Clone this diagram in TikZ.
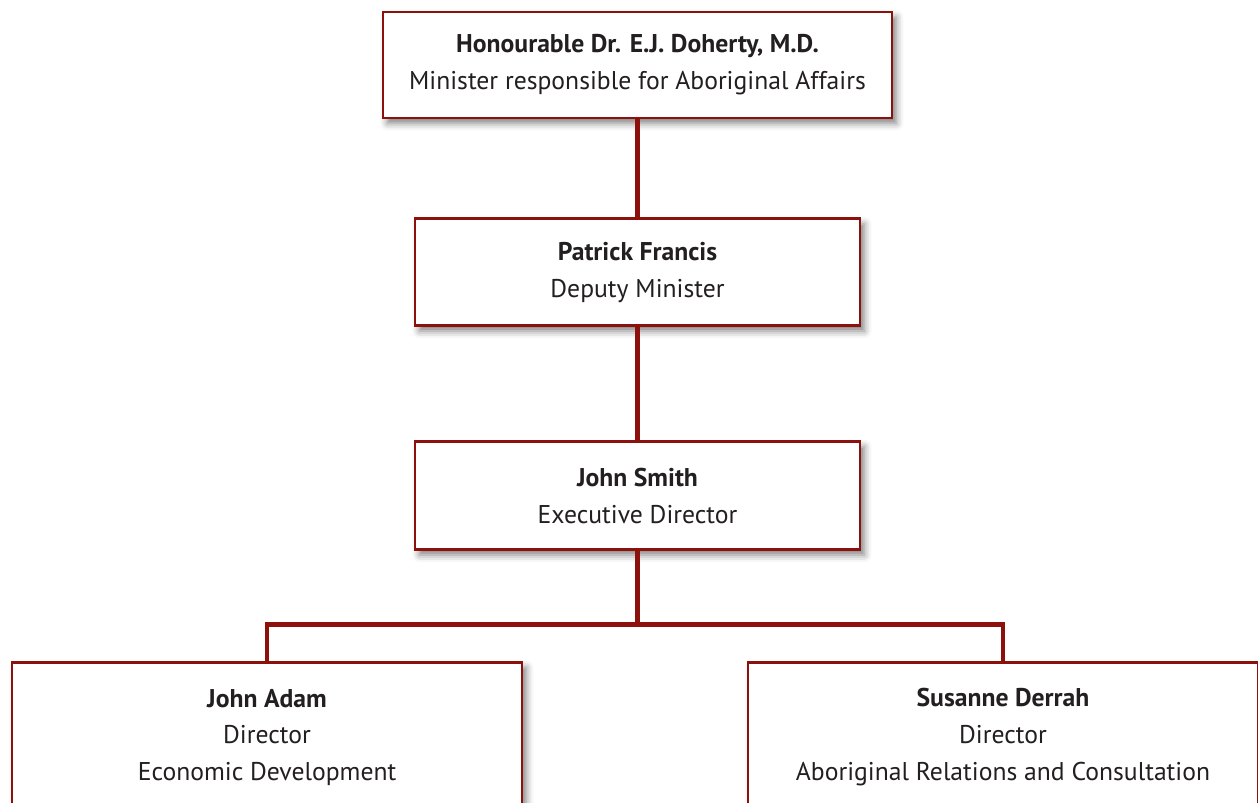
\documentclass[tikz,border=0pt]{standalone}
\usepackage{fontspec}
\setmainfont{PT Sans}
\usetikzlibrary{positioning,shadows.blur}
\definecolor{chartred}{RGB}{140,17,12}
\definecolor{inkgray}{RGB}{35,31,32}
\tikzset{
  orgbox/.style={draw=chartred, line width=1.6pt, fill=white, align=center,
    text=inkgray, font=\fontsize{14.6}{21}\selectfont,
    blur shadow={shadow xshift=2.5pt, shadow yshift=-3pt, shadow blur radius=4pt, shadow opacity=50}},
  orgline/.style={draw=chartred, line width=2.8pt}
}
\begin{document}
\begin{tikzpicture}[node distance=1.96cm]
  \clip (0,0) rectangle (25.16,-16.04);
  \useasboundingbox (0,0) rectangle (25.16,-16.04);
  \node (minister) [orgbox, minimum width=10.18cm, minimum height=2.12cm] at (12.75,-1.30)
    {\textbf{Honourable Dr. E.J. Doherty, M.D.}\\Minister responsible for Aboriginal Affairs};
  \node (deputy) [orgbox, minimum width=8.9cm, minimum height=2.14cm, below=of minister]
    {\textbf{Patrick Francis}\\Deputy Minister};
  \node (exec) [orgbox, minimum width=8.9cm, minimum height=2.16cm, below=2.26cm of deputy]
    {\textbf{John Smith}\\Executive Director};
  \node (adam) [orgbox, minimum width=10.2cm, minimum height=3cm, below=2.20cm of exec, xshift=-7.41cm]
    {\textbf{John Adam}\\Director\\Economic Development};
  \node (derrah) [orgbox, minimum width=10.2cm, minimum height=3cm, below=2.20cm of exec, xshift=7.31cm]
    {\textbf{Susanne Derrah}\\Director\\Aboriginal Relations and Consultation};
  \coordinate (split) at ([yshift=-1.46cm]exec.south);

  \draw[orgline] (minister) -- (deputy);
  \draw[orgline] (deputy) -- (exec);
  \draw[orgline] (exec) -- (split);
  \draw[orgline] (adam.north) |- (split) -| (derrah.north);
\end{tikzpicture}
\end{document}
